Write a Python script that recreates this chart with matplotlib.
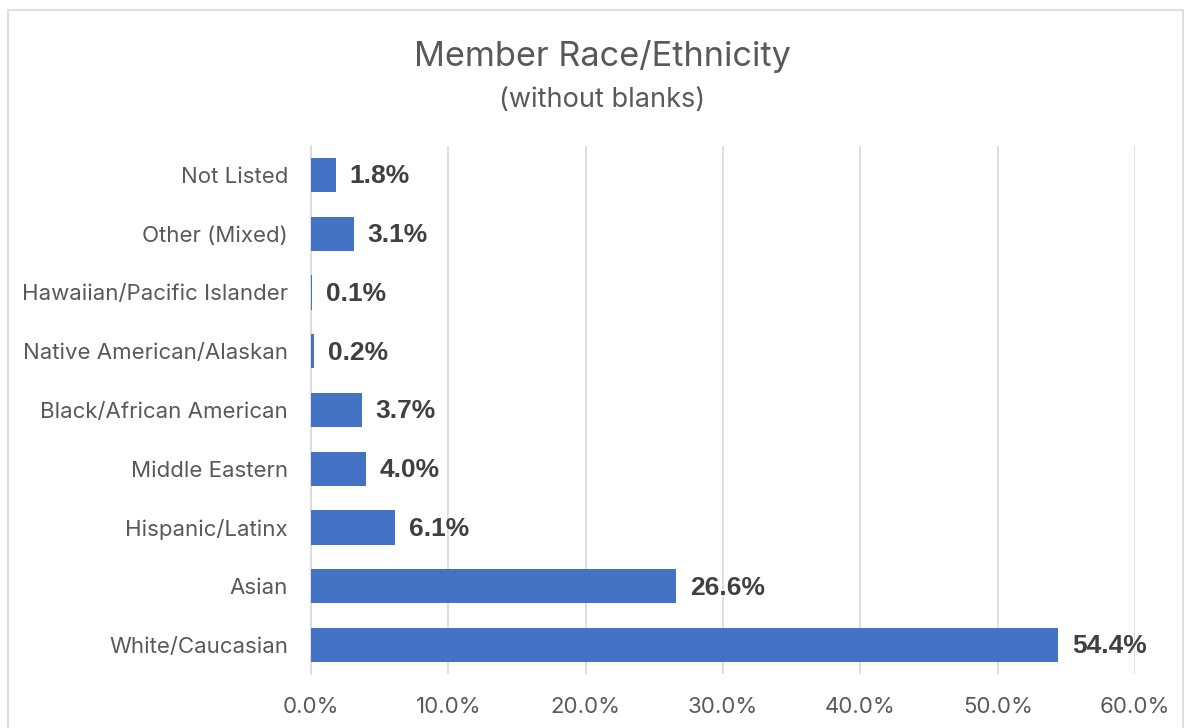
import matplotlib
matplotlib.use("Agg")
import matplotlib.pyplot as plt
from matplotlib.patches import Rectangle

categories = ["White/Caucasian", "Asian", "Hispanic/Latinx", "Middle Eastern",
              "Black/African American", "Native American/Alaskan",
              "Hawaiian/Pacific Islander", "Other (Mixed)", "Not Listed"]
values = [54.4, 26.6, 6.1, 4.0, 3.7, 0.2, 0.1, 3.1, 1.8]
xticks = [0, 10, 20, 30, 40, 50, 60]

BLUE, TXT, GRID = "#4472C4", "#595959", "#D9D9D9"
plt.rcParams["font.family"] = ["Inter", "DejaVu Sans"]

fig = plt.figure(figsize=(11.86, 7.28), dpi=100)
ax = fig.add_axes([0.2622, 0.0736, 0.695, 0.7264])

y = range(len(categories))
ax.barh(y, values, height=0.58, color=BLUE, zorder=3)
for i, v in enumerate(values):
    ax.annotate(f"{v:.1f}%", (v, i), xytext=(10, -1), textcoords="offset points",
                va="center", ha="left", fontsize=19, fontweight="bold",
                family="Liberation Sans", color="#404040", zorder=4)

ax.set_xlim(0, 60)
ax.set_ylim(-0.5, len(categories) - 0.5)
ax.set_xticks(xticks)
ax.set_xticklabels([f"{t:.1f}%" for t in xticks])
ax.set_yticks(list(y))
ax.set_yticklabels(categories)
ax.tick_params(axis="both", length=0, labelsize=16, labelcolor=TXT)
ax.tick_params(axis="y", pad=16.5)
ax.tick_params(axis="x", pad=16)
ax.xaxis.grid(True, color=GRID, lw=1.2, zorder=0)
for s in ["top", "right", "bottom"]:
    ax.spines[s].set_visible(False)
ax.spines["left"].set_color(GRID)
ax.spines["left"].set_linewidth(1.2)

fig.text(0.508, 0.922, "Member Race/Ethnicity", ha="center", va="center",
         fontsize=24.7, color=TXT)
fig.text(0.508, 0.863, "(without blanks)", ha="center", va="center",
         fontsize=19.5, color=TXT)

fig.patches.append(Rectangle((8 / 1186, -0.05), 1 - 11 / 1186, 1.05 - 10 / 728,
                             transform=fig.transFigure, fill=False,
                             edgecolor=GRID, lw=1.2))

fig.savefig("out.png", dpi=100)
